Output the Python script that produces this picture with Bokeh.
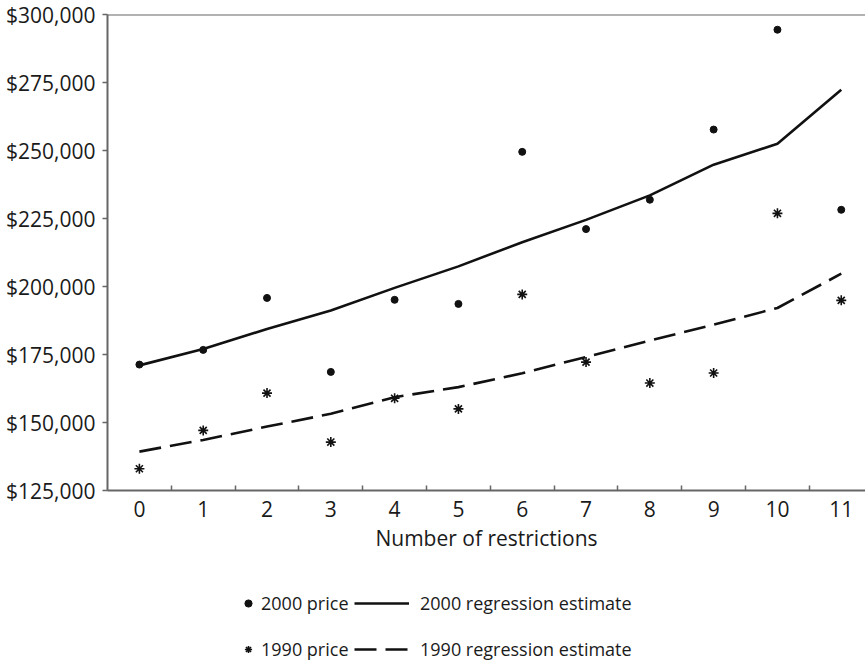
from bokeh.plotting import figure
from bokeh.layouts import column
from bokeh.models import Range1d, FixedTicker, NumeralTickFormatter, Span, Legend, LegendItem
from bokeh.core.properties import value
from bokeh.embed import file_html
from bokeh.resources import INLINE

# ---- data ----
restrictions = list(range(12))
price_2000 = [171300, 176700, 195800, 168600, 195100, 193600, 249500, 221100, 231900, 257700, 294400, 228200]
price_1990 = [133000, 147100, 160800, 142800, 158900, 155000, 197100, 172200, 164500, 168200, 226900, 194900]
reg_2000 = [171000, 177000, 184400, 191200, 199500, 207400, 216300, 224500, 233500, 244800, 252500, 272300]
reg_1990 = [139300, 143600, 148500, 153200, 159300, 163000, 168100, 174100, 180100, 186000, 192100, 204700]
y_ticks = [125000, 150000, 175000, 200000, 225000, 250000, 275000, 300000]
x_title = "Number of restrictions"
legend_labels = ["2000 price", "1990 price", "2000 regression estimate", "1990 regression estimate"]

FONT = "Open Sans"
TEXT = "#1a1a1a"
AXIS = "#666666"
INK = "#111111"

dot_style = dict(marker="circle", size=7, fill_color=INK, line_color=INK)
star_style = dict(marker="asterisk", size=10, line_color=INK, line_width=1.6)
solid_style = dict(line_color=INK, line_width=2.6)
dash_style = dict(line_color=INK, line_width=2.6, line_dash="22 9")

p = figure(width=865, height=568, output_backend="svg", toolbar_location=None,
           x_range=Range1d(-0.5, 11.38), y_range=Range1d(y_ticks[0], y_ticks[-1]),
           min_border_left=107, min_border_right=0, min_border_top=14, min_border_bottom=78)
p.grid.visible = False
p.outline_line_color = None
p.background_fill_color = "white"
p.border_fill_color = "white"

# x axis
xa = p.xaxis[0]
xa.ticker = FixedTicker(ticks=restrictions, minor_ticks=[r + 0.5 for r in restrictions[:-1]])
xa.major_tick_line_color = None
xa.minor_tick_in = 5
xa.minor_tick_out = 0
xa.minor_tick_line_color = AXIS
xa.minor_tick_line_width = 1.5
xa.axis_line_color = AXIS
xa.axis_line_width = 2
xa.major_label_text_font = FONT
xa.major_label_text_font_size = "21px"
xa.major_label_text_color = TEXT
xa.major_label_standoff = 4
xa.axis_label = x_title
xa.axis_label_text_font = FONT
xa.axis_label_text_font_size = "21px"
xa.axis_label_text_font_style = "normal"
xa.axis_label_text_color = TEXT
xa.axis_label_standoff = 4

# y axis
ya = p.yaxis[0]
ya.ticker = FixedTicker(ticks=y_ticks)
ya.formatter = NumeralTickFormatter(format="$0,0")
ya.major_tick_in = 0
ya.major_tick_out = 5
ya.major_tick_line_color = AXIS
ya.major_tick_line_width = 1.5
ya.minor_tick_line_color = None
ya.axis_line_color = AXIS
ya.axis_line_width = 2
ya.major_label_text_font = FONT
ya.major_label_text_font_size = "21px"
ya.major_label_text_color = TEXT
ya.major_label_standoff = 7

# top border line
p.add_layout(Span(location=y_ticks[-1], dimension="width", line_color=AXIS, line_width=2))

p.line(restrictions, reg_2000, **solid_style)
p.line(restrictions, reg_1990, **dash_style)
p.scatter(restrictions, price_2000, **dot_style)
p.scatter(restrictions, price_1990, **star_style)

# ---- legend strip below the chart (its frame is aligned with the chart's frame) ----
lg = figure(width=865, height=94, output_backend="svg", toolbar_location=None,
            x_range=Range1d(0, 1), y_range=Range1d(0, 1),
            x_axis_location=None, y_axis_location=None,
            min_border_left=107, min_border_right=0, min_border_top=0, min_border_bottom=0)
lg.grid.visible = False
lg.outline_line_color = None
lg.background_fill_color = "white"
lg.border_fill_color = "white"

# same series, drawn outside this strip's visible range: only their legend glyphs show
k_dot = lg.scatter(restrictions, price_2000, **dot_style)
k_star = lg.scatter(restrictions, price_1990, **star_style)
k_solid = lg.line(restrictions, reg_2000, **solid_style)
k_dash = lg.line(restrictions, reg_1990, **dash_style)

common = dict(orientation="vertical", glyph_height=24, label_height=24, spacing=22,
              padding=0, margin=0, border_line_color=None, background_fill_alpha=0,
              label_text_font=FONT, label_text_font_size="18px", label_text_color=TEXT)

leg_a = Legend(items=[LegendItem(label=value(legend_labels[0]), renderers=[k_dot]),
                      LegendItem(label=value(legend_labels[1]), renderers=[k_star])],
               location=(132, 1), glyph_width=18, label_standoff=4, **common)
leg_b = Legend(items=[LegendItem(label=value(legend_labels[2]), renderers=[k_solid]),
                      LegendItem(label=value(legend_labels[3]), renderers=[k_dash])],
               location=(247, 1), glyph_width=55, label_standoff=11, **common)
lg.add_layout(leg_a, "center")
lg.add_layout(leg_b, "center")

layout = column(p, lg, spacing=0)
open("out.html", "w").write(file_html(layout, INLINE))
